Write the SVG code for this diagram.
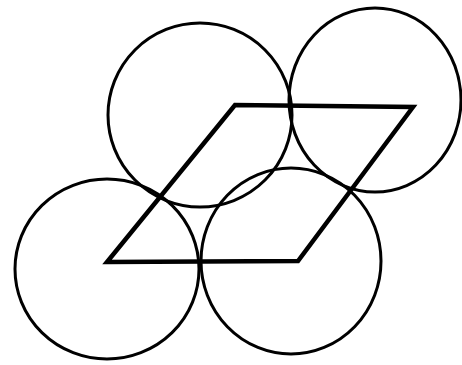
<svg xmlns="http://www.w3.org/2000/svg" width="462" height="365" viewBox="0 0 462 365">
<style>
.c{fill:none;stroke:#000;stroke-width:3}
.p{fill:none;stroke:#000;stroke-width:4.5;stroke-linejoin:miter}
</style>
<rect width="462" height="365" fill="#fff"/>
<g id="circle-top-left"><ellipse class="c" cx="200" cy="115" rx="92" ry="92"/></g>
<g id="circle-top-right"><ellipse class="c" cx="375" cy="100" rx="86" ry="92"/></g>
<g id="circle-bottom-left"><ellipse class="c" cx="107" cy="269" rx="92" ry="90"/></g>
<g id="circle-bottom-right"><ellipse class="c" cx="291" cy="261" rx="90" ry="93"/></g>
<g id="parallelogram"><polygon class="p" points="107,262 298,261 413,107 235,105"/></g>
</svg>
